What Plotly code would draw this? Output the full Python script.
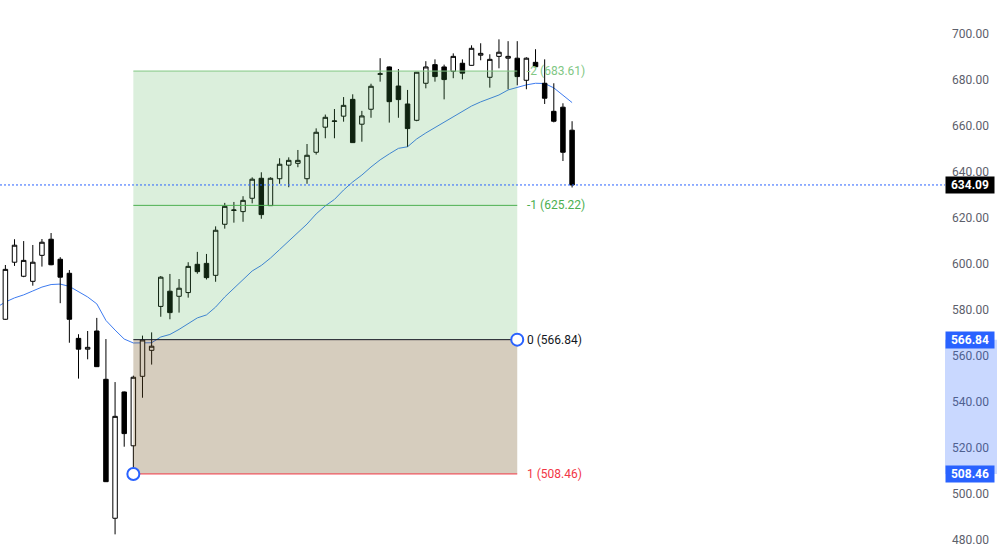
import plotly.graph_objects as go

# Daily candles (oldest -> newest)
opens = [575.7, 600.5, 594.4, 592.2, 603.5, 610.5, 601.8, 595.7, 567.4, 562.7,
         570.6, 549.6, 489.2, 544.1, 520.7, 550.9, 562.2, 581.3, 587.9, 585.7,
         587.3, 599.6, 600.0, 594.8, 617.0, 623.0, 622.5, 628.3, 637.0, 625.1,
         636.8, 642.7, 643.5, 636.8, 648.3, 659.2, 661.7, 664.0, 671.3, 660.5,
         667.0, 682.2, 685.4, 677.1, 669.3, 662.2, 678.3, 686.4, 685.4, 683.5,
         687.0, 686.1, 690.5, 680.9, 690.0, 689.2, 689.2, 679.6, 687.4, 678.3,
         666.1, 667.9, 657.9]
highs = [599.3, 610.5, 609.7, 608.0, 610.6, 613.2, 602.7, 597.1, 569.2, 570.6,
         576.3, 567.1, 548.4, 544.3, 551.2, 568.6, 570.0, 594.5, 595.4, 593.2,
         600.5, 605.0, 604.1, 616.1, 626.3, 626.7, 629.2, 637.4, 639.6, 637.4,
         645.7, 646.1, 649.3, 651.9, 658.7, 664.7, 667.1, 672.3, 673.5, 666.3,
         678.1, 689.2, 685.6, 684.5, 675.4, 683.2, 687.9, 688.7, 686.4, 691.3,
         688.7, 694.8, 695.7, 690.9, 697.4, 696.6, 696.6, 689.6, 693.1, 688.7,
         678.3, 669.6, 661.8]
lows = [575.5, 598.9, 594.0, 590.3, 598.6, 599.2, 582.7, 565.5, 549.9, 558.3,
        555.0, 505.0, 482.2, 520.3, 508.46, 541.6, 556.0, 576.8, 575.7, 578.6,
        585.1, 595.5, 593.0, 592.0, 615.1, 617.7, 618.1, 626.1, 619.4, 625.0,
        634.6, 633.1, 641.8, 634.6, 647.3, 654.4, 654.4, 661.6, 652.4, 652.9,
        663.3, 679.0, 661.2, 663.3, 650.7, 661.8, 676.1, 679.0, 671.3, 680.5,
        680.0, 686.0, 688.3, 676.4, 684.8, 675.7, 677.4, 675.7, 685.4, 669.3,
        661.3, 644.5, 633.0]
closes = [597.4, 607.9, 601.3, 600.5, 609.2, 599.4, 594.0, 575.7, 562.7, 563.5,
          555.1, 505.1, 533.5, 526.0, 550.5, 566.7, 564.0, 594.0, 578.6, 589.2,
          598.7, 596.4, 593.8, 614.4, 624.8, 623.2, 627.4, 636.6, 621.2, 637.0,
          643.1, 644.8, 644.8, 647.0, 657.0, 663.5, 661.9, 668.7, 652.5, 664.1,
          677.0, 682.4, 670.3, 671.2, 658.6, 683.1, 685.4, 681.2, 679.9, 690.0,
          682.7, 693.5, 691.3, 688.7, 691.8, 690.0, 681.2, 689.2, 685.5, 671.8,
          661.8, 648.3, 634.09]

# Moving average line (starts one bar before the first visible candle)
ma_values = [580.8, 583.2, 585.0, 586.3, 588.0, 589.7, 590.8, 591.0, 590.0, 587.6,
             585.4, 582.4, 575.2, 571.0, 567.1, 565.4, 565.3, 565.5, 568.0, 569.1,
             571.3, 573.8, 576.3, 577.6, 581.0, 585.4, 589.3, 592.8, 596.7, 599.1,
             602.3, 606.0, 609.7, 613.2, 617.1, 621.5, 625.0, 627.8, 631.9, 635.4,
             638.4, 641.9, 645.0, 647.6, 650.0, 650.7, 654.1, 656.7, 659.1, 661.5,
             663.8, 666.3, 668.4, 670.2, 671.7, 673.2, 675.4, 676.6, 677.6, 678.3,
             678.2, 676.3, 673.2, 669.9]

# Fib extension drawing
fib_levels = ["-2", "-1", "0", "1"]
fib_prices = [683.61, 625.22, 566.84, 508.46]
fib_colors = ["#81c784", "#4caf50", "#131722", "#f23645"]
fib_start, fib_end = 14, 56

last_price = 634.09
y_ticks = [480, 500, 520, 540, 560, 580, 600, 620, 640, 660, 680, 700]

FONT = "Roboto, Arial, sans-serif"
BLUE = "#2962ff"

bars = list(range(len(closes)))
ma_x = list(range(-1, len(closes)))

fig = go.Figure()

# MA sits on the base axes so the candles (on the overlay axes) cover it
fig.add_trace(go.Scatter(
    x=ma_x, y=ma_values, mode="lines",
    line=dict(color="#3d7bf0", width=1),
    hoverinfo="skip", showlegend=False
))

fig.add_trace(go.Candlestick(
    x=bars, open=opens, high=highs, low=lows, close=closes,
    xaxis="x2", yaxis="y2",
    increasing=dict(fillcolor="#ffffff", line=dict(color="#000000", width=1)),
    decreasing=dict(fillcolor="#000000", line=dict(color="#000000", width=1)),
    whiskerwidth=0, showlegend=False
))

shapes = []
# shaded zones between levels
shapes.append(dict(type="rect", xref="x", yref="y", layer="above",
                   x0=fib_start, x1=fib_end, y0=fib_prices[2], y1=fib_prices[0],
                   fillcolor="rgba(76,175,80,0.2)", line=dict(width=0)))
shapes.append(dict(type="rect", xref="x", yref="y", layer="above",
                   x0=fib_start, x1=fib_end, y0=fib_prices[3], y1=fib_prices[2],
                   fillcolor="rgba(120,90,40,0.3)", line=dict(width=0)))
for price, color in zip(fib_prices, fib_colors):
    shapes.append(dict(type="line", xref="x", yref="y", layer="above",
                       x0=fib_start, x1=fib_end, y0=price, y1=price,
                       line=dict(color=color, width=1)))

# last price dotted line
shapes.append(dict(type="line", xref="paper", yref="y", layer="above",
                   x0=0, x1=1, y0=last_price, y1=last_price,
                   line=dict(color=BLUE, width=1, dash="2px,2px")))

# highlighted band on the price scale
shapes.append(dict(type="rect", xref="paper", yref="y", layer="above",
                   x0=1, x1=1.06, y0=fib_prices[3], y1=fib_prices[2],
                   fillcolor="rgba(41,98,255,0.25)", line=dict(width=0)))

# anchor handles
for xa, ya in [(fib_start, fib_prices[3]), (fib_end, fib_prices[2])]:
    shapes.append(dict(type="circle", xref="x", yref="y", layer="above",
                       xsizemode="pixel", ysizemode="pixel",
                       xanchor=xa, yanchor=ya, x0=-6, x1=6, y0=-6, y1=6,
                       fillcolor="#ffffff", line=dict(color=BLUE, width=2)))

annotations = []
for lvl, price, color in zip(fib_levels, fib_prices, fib_colors):
    annotations.append(dict(
        x=fib_end, y=price, xref="x", yref="y", xanchor="left", yanchor="middle",
        xshift=8, text=f"{lvl} ({price:.2f})", showarrow=False,
        font=dict(family=FONT, size=12, color=color)
    ))

# price scale labels
for price, bg in [(last_price, "#000000"), (fib_prices[2], BLUE), (fib_prices[3], BLUE)]:
    annotations.append(dict(
        x=1, y=price, xref="paper", yref="y", xanchor="left", yanchor="middle",
        text=f"<b>{price:.2f}</b>", showarrow=False, bgcolor=bg,
        width=46, height=14, borderpad=1, align="center",
        font=dict(family=FONT, size=12, color="#ffffff")
    ))

x_range = [-0.59, 102.8]
y_range = [471.05, 714.5]

fig.update_layout(
    width=997, height=560,
    margin=dict(l=0, r=52, t=0, b=0),
    paper_bgcolor="#ffffff", plot_bgcolor="#ffffff",
    showlegend=False,
    font=dict(family=FONT, size=12, color="#5d606b"),
    xaxis=dict(range=x_range, visible=False, showgrid=False,
               rangeslider=dict(visible=False)),
    xaxis2=dict(range=x_range, overlaying="x", matches="x", visible=False,
                rangeslider=dict(visible=False)),
    yaxis=dict(range=y_range, side="right", tickvals=y_ticks,
               ticktext=[f"{v:.2f}" for v in y_ticks],
               showgrid=False, zeroline=False, showline=False, ticks="",
               ticklabelstandoff=6,
               tickfont=dict(family=FONT, size=12, color="#5d606b")),
    yaxis2=dict(range=y_range, overlaying="y", matches="y", visible=False),
    shapes=shapes,
    annotations=annotations,
)

# drop the page's default body margin so the chart fills the window exactly
fig.write_html("out.html", config={"displayModeBar": False},
               post_script="document.body.style.margin='0';")
